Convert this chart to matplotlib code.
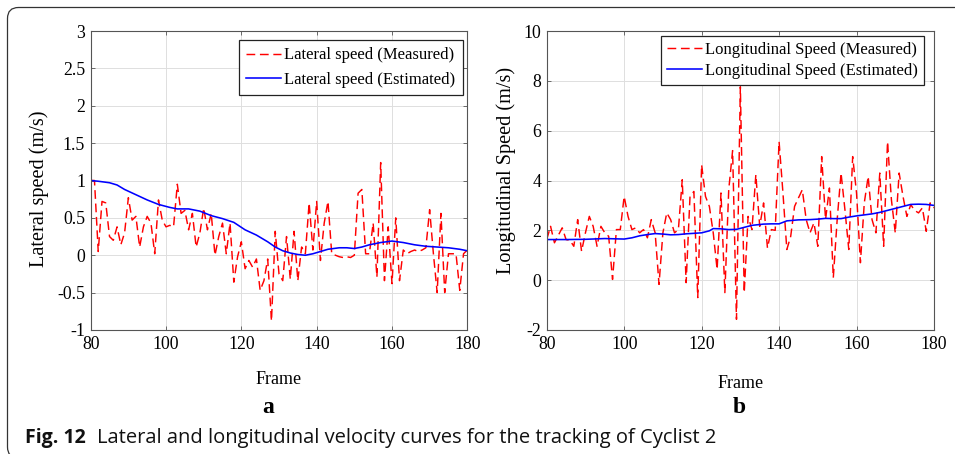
import matplotlib
matplotlib.use("Agg")
import matplotlib.pyplot as plt
from matplotlib.patches import FancyBboxPatch
from matplotlib.transforms import IdentityTransform

# ---------------- data ----------------
frames = list(range(80, 181))

lateral_measured = [
    1.00, 1.00, 0.05, 0.72, 0.70, 0.25, 0.20, 0.38, 0.14, 0.30,
    0.77, 0.47, 0.52, 0.11, 0.38, 0.52, 0.43, 0.02, 0.74, 0.47,
    0.38, 0.40, 0.38, 0.95, 0.56, 0.60, 0.34, 0.56, 0.11, 0.30,
    0.63, 0.34, 0.56, 0.00, 0.25, 0.43, 0.02, 0.43, -0.36, -0.02,
    0.18, -0.18, -0.07, -0.16, -0.05, -0.47, -0.34, -0.05, -0.88, 0.32,
    -0.25, -0.34, 0.25, -0.32, 0.32, -0.34, 0.11, 0.02, 0.70, 0.07,
    0.72, -0.07, 0.43, 0.72, 0.02, 0.00, -0.02, -0.03, -0.02, -0.03,
    0.00, 0.83, 0.88, 0.02, 0.02, 0.43, -0.29, 1.24, -0.34, 0.38,
    -0.38, 0.50, -0.34, 0.07, 0.02, 0.05, 0.07, 0.05, 0.07, 0.10,
    0.61, 0.02, -0.50, 0.56, -0.50, 0.02, 0.02, 0.02, -0.47, 0.02,
    0.07,
]

lateral_est_frames = [80, 82, 85, 87, 89, 92, 95, 98, 101, 103, 106, 109, 112,
                      115, 118, 121, 124, 127, 129, 131, 133, 135, 137, 139,
                      141, 143, 146, 148, 150, 152, 154, 157, 160, 163, 166,
                      169, 172, 175, 178, 180]
lateral_est = [1.00, 0.99, 0.97, 0.94, 0.88, 0.81, 0.74, 0.68, 0.64, 0.62,
               0.62, 0.59, 0.53, 0.49, 0.44, 0.34, 0.27, 0.18, 0.11, 0.06,
               0.03, 0.01, 0.00, 0.02, 0.05, 0.08, 0.10, 0.10, 0.09, 0.11,
               0.14, 0.17, 0.19, 0.17, 0.14, 0.12, 0.11, 0.10, 0.08, 0.06]

long_measured = [
    1.63, 2.16, 1.50, 1.80, 2.10, 1.63, 1.60, 1.36, 2.43, 1.16,
    1.90, 2.56, 2.16, 1.36, 2.16, 1.90, 1.76, 0.03, 2.03, 2.03,
    3.36, 2.56, 2.03, 2.10, 1.90, 2.03, 1.70, 2.43, 1.90, -0.17,
    1.90, 2.70, 2.43, 1.90, 2.03, 4.03, -0.10, 3.36, 3.56, -0.70,
    4.63, 3.36, 2.96, 1.90, 0.43, 3.50, -0.50, 3.63, 5.20, -1.57,
    7.76, -0.50, 2.56, 2.03, 4.23, 2.16, 3.10, 1.29, 2.03, 2.00,
    5.56, 3.50, 1.23, 1.76, 2.96, 3.30, 3.63, 2.43, 1.90, 2.30,
    1.36, 4.96, 2.43, 3.70, 0.10, 2.43, 4.30, 2.83, 1.23, 4.96,
    3.50, 0.70, 3.10, 4.16, 2.43, 1.90, 4.30, 1.36, 5.56, 3.23,
    1.90, 4.30, 3.36, 2.56, 3.03, 2.80, 2.70, 2.90, 1.96, 3.10,
    2.90,
]

long_est_frames = [80, 85, 90, 95, 100, 102, 104, 106, 108, 110, 112, 114, 116,
                   118, 120, 122, 123, 125, 127, 129, 131, 133, 136, 138, 140,
                   142, 145, 148, 150, 152, 154, 156, 158, 160, 162, 164, 166,
                   168, 170, 172, 174, 176, 178, 180]
long_est = [1.63, 1.63, 1.64, 1.67, 1.65, 1.70, 1.78, 1.83, 1.87, 1.85, 1.82,
            1.83, 1.86, 1.88, 1.90, 1.98, 2.07, 2.06, 2.03, 2.04, 2.12, 2.20,
            2.25, 2.26, 2.26, 2.38, 2.42, 2.43, 2.45, 2.48, 2.47, 2.47, 2.53,
            2.58, 2.62, 2.66, 2.72, 2.80, 2.88, 2.96, 3.04, 3.05, 3.04, 3.00]

x_ticks = [80, 100, 120, 140, 160, 180]
lat_yticks = [-1, -0.5, 0, 0.5, 1, 1.5, 2, 2.5, 3]
lat_yticklabels = ["-1", "-0.5", "0", "0.5", "1", "1.5", "2", "2.5", "3"]
long_yticks = [-2, 0, 2, 4, 6, 8, 10]

# ---------------- style ----------------
serif = ["Liberation Serif", "DejaVu Serif"]
plt.rcParams["font.family"] = serif
plt.rcParams["axes.unicode_minus"] = False

W, H = 955, 454
fig = plt.figure(figsize=(W / 100, H / 100), dpi=100)
fig.patch.set_facecolor("white")

def px_axes(x0, x1, y0, y1):
    return fig.add_axes([x0 / W, 1 - y1 / H, (x1 - x0) / W, (y1 - y0) / H])

ax1 = px_axes(90.7, 467.3, 31, 330)
ax2 = px_axes(546.7, 934.0, 31, 330)

spine_col = "#555555"
tick_fs = 12.8

def style(ax):
    ax.set_facecolor("white")
    for s in ax.spines.values():
        s.set_color(spine_col)
        s.set_linewidth(0.8)
    ax.tick_params(direction="in", length=3, width=0.6, color=spine_col,
                   top=True, right=True, labelsize=tick_fs, labelcolor="black",
                   pad=4)
    ax.grid(True, color="#dedede", linewidth=0.7)
    ax.set_axisbelow(True)

red_kw = dict(color="#ff0000", linewidth=1.05, linestyle=(0, (6, 3.2)))
blue_kw = dict(color="#0000ff", linewidth=1.15, linestyle="-")

# ---- left panel ----
ax1.plot(frames, lateral_measured, label="Lateral speed (Measured)", **red_kw)
ax1.plot(lateral_est_frames, lateral_est, label="Lateral speed (Estimated)", **blue_kw)
ax1.set_xlim(80, 180)
ax1.set_ylim(-1, 3)
ax1.set_xticks(x_ticks)
ax1.set_yticks(lat_yticks)
ax1.set_yticklabels(lat_yticklabels)
style(ax1)
ax1.set_xlabel("Frame", fontsize=13, labelpad=13)
ax1.set_ylabel("Lateral speed (m/s)", fontsize=14.6)
ax1.yaxis.set_label_coords(-0.110, 0.472)
leg1 = ax1.legend(loc="upper right", bbox_to_anchor=(0.9886, 0.970),
                  borderaxespad=0, fontsize=12, frameon=True, fancybox=False,
                  edgecolor="#222222", framealpha=1, handlelength=2.1,
                  handletextpad=0.2, labelspacing=0.5, borderpad=0.45)
leg1.get_frame().set_linewidth(0.9)

# ---- right panel ----
ax2.plot(frames, long_measured, label="Longitudinal Speed (Measured)", **red_kw)
ax2.plot(long_est_frames, long_est, label="Longitudinal Speed (Estimated)", **blue_kw)
ax2.set_xlim(80, 180)
ax2.set_ylim(-2, 10)
ax2.set_xticks(x_ticks)
ax2.set_yticks(long_yticks)
style(ax2)
ax2.set_xlabel("Frame", fontsize=13, labelpad=16)
ax2.set_ylabel("Longitudinal Speed (m/s)", fontsize=14.6)
ax2.yaxis.set_label_coords(-0.079, 0.535)
leg2 = ax2.legend(loc="upper right", bbox_to_anchor=(0.974, 0.983),
                  borderaxespad=0, fontsize=12, frameon=True, fancybox=False,
                  edgecolor="#222222", framealpha=1, handlelength=2.1,
                  handletextpad=0.2, labelspacing=0.3, borderpad=0.35)
leg2.get_frame().set_linewidth(0.9)

# ---- panel letters ----
fig.text(268.5 / W, 1 - 413 / H, "a", ha="center", va="baseline",
         fontsize=17, fontweight="bold")
fig.text(739 / W, 1 - 413 / H, "b", ha="center", va="baseline",
         fontsize=17, fontweight="bold")

# ---- caption ----
cap_family = ["Open Sans", "DejaVu Sans"]
fig.text(25 / W, 1 - 443 / H, "Fig. 12", ha="left", va="baseline",
         fontsize=14, fontweight="bold", family=cap_family, color="#111111")
fig.text(97 / W, 1 - 443 / H,
         "Lateral and longitudinal velocity curves for the tracking of Cyclist 2",
         ha="left", va="baseline", fontsize=14.5, family=cap_family, color="#111111")

# ---- rounded frame border ----
frame = FancyBboxPatch((7.5, -4), 1000, (H - 7.5) + 4,
                       boxstyle="round,pad=0,rounding_size=11",
                       transform=IdentityTransform(), fill=False,
                       edgecolor="#333333", linewidth=0.9)
fig.patches.append(frame)

fig.savefig("out.png", dpi=100)
